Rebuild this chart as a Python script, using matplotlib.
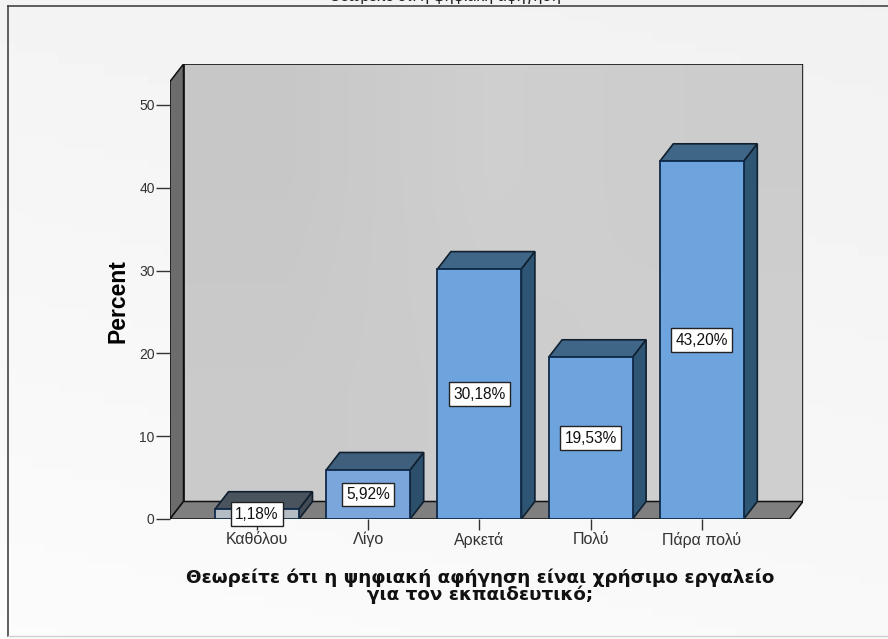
import numpy as np
import matplotlib
matplotlib.use('Agg')
import matplotlib.pyplot as plt
from matplotlib.lines import Line2D
from matplotlib.patches import Polygon

plt.rcParams['font.family'] = ['Liberation Sans', 'DejaVu Sans']

categories = ['Καθόλου', 'Λίγο', 'Αρκετά', 'Πολύ', 'Πάρα πολύ']
percent = [1.18, 5.92, 30.18, 19.53, 43.20]
bar_labels = ['1,18%', '5,92%', '30,18%', '19,53%', '43,20%']
y_ticks = [0, 10, 20, 30, 40, 50]
x_title = 'Θεωρείτε ότι η ψηφιακή αφήγηση είναι χρήσιμο εργαλείο\nγια τον εκπαιδευτικό;'
# only the bottom of this line survives in the scan, wording is a guess
cut_title = 'Θεωρείτε ότι η ψηφιακή αφήγηση'

# the scan washes out the small first bar
front_colors = ['#b4bcc4', '#7ba6dc', '#6ea4de', '#6ea4de', '#6ea4de']
top_colors = ['#4a545e', '#3f5f7c', '#3f6587', '#3f6587', '#3f6587']
side_colors = ['#434b54', '#2c4f6b', '#2e5674', '#2e5674', '#2e5674']

W, H = 888, 639
PX_LEFT, PX_RIGHT, PX_TOP, PX_ZERO = 170, 803, 64, 519
PX_PER_PCT = 8.28
PX_PER_CAT = 111.2
PX_FIRST = 257

fig = plt.figure(figsize=(W / 100, H / 100), dpi=100, facecolor='#f6f6f6')

# soft background of the scan
bg = fig.add_axes([0, 0, 1, 1], zorder=0)
bg.axis('off')
xx, yy = np.meshgrid(np.linspace(0, 1, 60), np.linspace(0, 1, 60))
bg.imshow(0.955 + 0.03 * yy - 0.01 * xx, cmap='gray', vmin=0, vmax=1, aspect='auto', extent=[0, 1, 0, 1])
bg.set_xlim(0, 1)
bg.set_ylim(0, 1)

ax = fig.add_axes([PX_LEFT / W, 1 - PX_ZERO / H, (PX_RIGHT - PX_LEFT) / W, (PX_ZERO - PX_TOP) / H], zorder=1)
ax.patch.set_visible(False)
ax.set_xlim((PX_LEFT - PX_FIRST) / PX_PER_CAT, (PX_RIGHT - PX_FIRST) / PX_PER_CAT)
ax.set_ylim(0, (PX_ZERO - PX_TOP) / PX_PER_PCT)
for s in ax.spines.values():
    s.set_visible(False)

dx = 13.5 / PX_PER_CAT
dy = 17.5 / PX_PER_PCT
half = 42 / PX_PER_CAT
x0, x1 = ax.get_xlim()
y1 = ax.get_ylim()[1]
front_right = x1 - dx

# back wall with a slight gradient
wall = ax.imshow(np.array([[0.78, 0.81, 0.80], [0.79, 0.80, 0.81]]), cmap='gray', vmin=0, vmax=1,
                 aspect='auto', extent=[x0 + dx, x1, dy, y1], interpolation='bilinear', zorder=1)
ax.set_xlim(x0, x1)
ax.set_ylim(0, y1)
ax.add_patch(Polygon([(x0 + dx, dy), (x1, dy), (x1, y1), (x0 + dx, y1)], closed=True, fill=False,
                     edgecolor='#111111', lw=1.2, zorder=2))
# left wall and floor
ax.add_patch(Polygon([(x0, 0), (x0 + dx, dy), (x0 + dx, y1), (x0, y1 - dy)], closed=True,
                     facecolor='#6c6c6c', edgecolor='#111111', lw=1.1, zorder=2))
ax.add_patch(Polygon([(x0, 0), (front_right, 0), (x1, dy), (x0 + dx, dy)], closed=True,
                     facecolor='#7f7f7f', edgecolor='#111111', lw=1.1, zorder=2))

for i, v in enumerate(percent):
    lo, hi = i - half, i + half
    ax.add_patch(Polygon([(lo, v), (hi, v), (hi + dx, v + dy), (lo + dx, v + dy)], closed=True,
                         facecolor=top_colors[i], edgecolor='#10202f', lw=1.2, zorder=3))
    ax.add_patch(Polygon([(hi, 0), (hi + dx, dy), (hi + dx, v + dy), (hi, v)], closed=True,
                         facecolor=side_colors[i], edgecolor='#10202f', lw=1.2, zorder=3))
    ax.add_patch(Polygon([(lo, 0), (hi, 0), (hi, v), (lo, v)], closed=True,
                         facecolor=front_colors[i], edgecolor='#0f2a4a', lw=1.3, zorder=4))
    ax.text(i, v / 2, bar_labels[i], ha='center', va='center', fontsize=11.2, color='#111111', zorder=6,
            bbox=dict(boxstyle='square,pad=0.27', facecolor='white', edgecolor='#222222', lw=1))

ax.set_xticks(range(len(categories)))
ax.set_xticklabels(categories, fontsize=11.5, color='#333333')
ax.set_yticks(y_ticks)
ax.tick_params(axis='y', length=10, width=1, color='#333333', labelsize=10, labelcolor='#333333', pad=1)
ax.tick_params(axis='x', length=8, width=1, color='#333333', pad=1)

fig.text(118 / W, 1 - 301 / H, 'Percent', rotation=90, ha='center', va='center', fontsize=16.5, fontweight='bold')
fig.text(480 / W, 1 - 586 / H, x_title, ha='center', va='center', fontsize=13.2, fontweight='bold',
         family=['DejaVu Sans'], linespacing=0.9, color='#111111')
fig.text(445 / W, 1 - 1.5 / H, cut_title, ha='center', va='baseline', fontsize=11.3, color='#222222')

# outer frame of the pasted picture
fig.add_artist(Line2D([8 / W, 8 / W], [1 - 6 / H, 1 - 636 / H], color='#444444', lw=1.2))
fig.add_artist(Line2D([8 / W, 1], [1 - 6 / H, 1 - 6 / H], color='#444444', lw=1.2))
fig.add_artist(Line2D([8 / W, 1], [1 - 636 / H, 1 - 636 / H], color='#cfcfcf', lw=1))

fig.savefig('out.png', dpi=100)
